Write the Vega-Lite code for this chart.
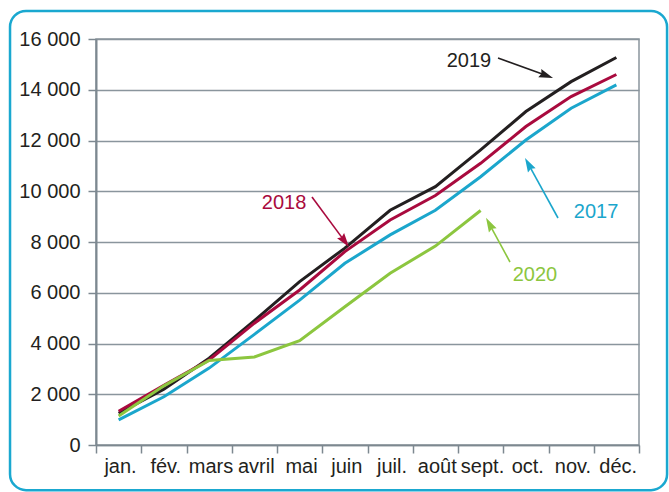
{
  "$schema": "https://vega.github.io/schema/vega-lite/v6.json",
  "width": 543,
  "height": 406,
  "autosize": {"type": "none"},
  "padding": {"left": 96, "top": 39, "right": 30, "bottom": 47},
  "background": "white",
  "config": {
    "view": {"stroke": "#8a959d", "strokeWidth": 1.5},
    "font": "Liberation Sans"
  },
  "layer": [
    {
      "data": {"values": [{}]},
      "mark": {"type": "rect", "filled": false, "stroke": "#1aa8d0", "strokeWidth": 2.5, "cornerRadius": 16},
      "encoding": {
        "x": {"datum": -1.40, "type": "quantitative"},
        "x2": {"datum": 13.12},
        "y": {"datum": 17104, "type": "quantitative"},
        "y2": {"datum": -1780}
      }
    },
    {
      "data": {"values": [
        {"m": 1, "year": "2017", "v": 990},
        {"m": 2, "year": "2017", "v": 1900},
        {"m": 3, "year": "2017", "v": 3030},
        {"m": 4, "year": "2017", "v": 4360},
        {"m": 5, "year": "2017", "v": 5710},
        {"m": 6, "year": "2017", "v": 7160},
        {"m": 7, "year": "2017", "v": 8280},
        {"m": 8, "year": "2017", "v": 9250},
        {"m": 9, "year": "2017", "v": 10570},
        {"m": 10, "year": "2017", "v": 12020},
        {"m": 11, "year": "2017", "v": 13270},
        {"m": 12, "year": "2017", "v": 14190},
        {"m": 1, "year": "2019", "v": 1250},
        {"m": 2, "year": "2019", "v": 2200},
        {"m": 3, "year": "2019", "v": 3420},
        {"m": 4, "year": "2019", "v": 4900},
        {"m": 5, "year": "2019", "v": 6440},
        {"m": 6, "year": "2019", "v": 7760},
        {"m": 7, "year": "2019", "v": 9250},
        {"m": 8, "year": "2019", "v": 10180},
        {"m": 9, "year": "2019", "v": 11630},
        {"m": 10, "year": "2019", "v": 13140},
        {"m": 11, "year": "2019", "v": 14320},
        {"m": 12, "year": "2019", "v": 15270},
        {"m": 1, "year": "2018", "v": 1330},
        {"m": 2, "year": "2018", "v": 2350},
        {"m": 3, "year": "2018", "v": 3350},
        {"m": 4, "year": "2018", "v": 4800},
        {"m": 5, "year": "2018", "v": 6110},
        {"m": 6, "year": "2018", "v": 7620},
        {"m": 7, "year": "2018", "v": 8870},
        {"m": 8, "year": "2018", "v": 9830},
        {"m": 9, "year": "2018", "v": 11100},
        {"m": 10, "year": "2018", "v": 12550},
        {"m": 11, "year": "2018", "v": 13730},
        {"m": 12, "year": "2018", "v": 14600},
        {"m": 1, "year": "2020", "v": 1140},
        {"m": 2, "year": "2020", "v": 2330},
        {"m": 3, "year": "2020", "v": 3330},
        {"m": 4, "year": "2020", "v": 3470},
        {"m": 5, "year": "2020", "v": 4110},
        {"m": 6, "year": "2020", "v": 5450},
        {"m": 7, "year": "2020", "v": 6770},
        {"m": 8, "year": "2020", "v": 7840},
        {"m": 9, "year": "2020", "v": 9240}
      ]},
      "mark": {"type": "line", "strokeWidth": 3},
      "encoding": {
        "x": {
          "field": "m", "type": "quantitative",
          "scale": {"domain": [0.5, 12.5], "nice": false, "zero": false},
          "axis": {
            "title": null,
            "values": [0.5, 1.5, 2.5, 3.5, 4.5, 5.5, 6.5, 7.5, 8.5, 9.5, 10.5, 11.5, 12.5],
            "labelExpr": "['jan.','fév.','mars','avril','mai','juin','juil.','août','sept.','oct.','nov.','déc.',''][floor(datum.value)]",
            "grid": false,
            "tickSize": 8, "tickColor": "#7d8890", "tickWidth": 1.5,
            "domainColor": "#7d8890", "domainWidth": 1.5,
            "labelOffset": 24, "labelAlign": "center", "labelBaseline": "top",
            "labelPadding": 3, "labelFontSize": 20, "labelColor": "#231f20",
            "labelOverlap": false, "labelBound": false, "labelFlush": false,
            "labelFont": "Liberation Sans"
          }
        },
        "y": {
          "field": "v", "type": "quantitative",
          "scale": {"domain": [0, 16000], "nice": false},
          "axis": {
            "title": null,
            "values": [0, 2000, 4000, 6000, 8000, 10000, 12000, 14000, 16000],
            "labelExpr": "replace(format(datum.value, ','), ',', ' ')",
            "grid": true, "gridColor": "#8a959d", "gridWidth": 1.5,
            "tickSize": 8, "tickColor": "#7d8890", "tickWidth": 1.5,
            "domainColor": "#7d8890", "domainWidth": 2,
            "labelPadding": 8, "labelFontSize": 20, "labelColor": "#231f20",
            "labelFont": "Liberation Sans"
          }
        },
        "color": {
          "field": "year", "type": "nominal",
          "scale": {"domain": ["2017", "2018", "2019", "2020"], "range": ["#1ba6cc", "#a90a3e", "#231f20", "#8cc63f"]},
          "legend": null
        }
      }
    },
    {
      "data": {"values": [
        {"year": "2019", "tx": 8.743, "ty": 15133, "ax1": 9.384, "ay1": 15252, "ax2": 10.454, "ay2": 14558},
        {"year": "2018", "tx": 4.655, "ty": 9537, "ax1": 5.273, "ay1": 9774, "ax2": 5.998, "ay2": 8024},
        {"year": "2017", "tx": 11.55, "ty": 9183, "ax1": 10.710, "ay1": 8946, "ax2": 10.056, "ay2": 11070},
        {"year": "2020", "tx": 10.20, "ty": 6700, "ax1": 9.649, "ay1": 7212, "ax2": 9.194, "ay2": 8706}
      ]},
      "transform": [
        {"calculate": "atan2((datum.ax2 - datum.ax1) * 45.25, (datum.ay2 - datum.ay1) / 39.41) * 180 / PI", "as": "ang"}
      ],
      "layer": [
        {
          "mark": {"type": "text", "fontSize": 20, "font": "Liberation Sans", "align": "center", "baseline": "middle"},
          "encoding": {
            "x": {"field": "tx", "type": "quantitative"},
            "y": {"field": "ty", "type": "quantitative"},
            "text": {"field": "year"},
            "color": {"field": "year", "type": "nominal"}
          }
        },
        {
          "mark": {"type": "rule", "strokeWidth": 1.6},
          "encoding": {
            "x": {"field": "ax1", "type": "quantitative"},
            "y": {"field": "ay1", "type": "quantitative"},
            "x2": {"field": "ax2"},
            "y2": {"field": "ay2"},
            "color": {"field": "year", "type": "nominal"}
          }
        },
        {
          "mark": {"type": "point", "shape": "M0,-1L-0.62,1L0,0.75L0.62,1Z", "filled": true, "size": 200, "opacity": 1, "strokeWidth": 0},
          "encoding": {
            "x": {"field": "ax2", "type": "quantitative"},
            "y": {"field": "ay2", "type": "quantitative"},
            "angle": {"field": "ang", "type": "quantitative", "scale": null},
            "color": {"field": "year", "type": "nominal"}
          }
        }
      ]
    }
  ]
}
